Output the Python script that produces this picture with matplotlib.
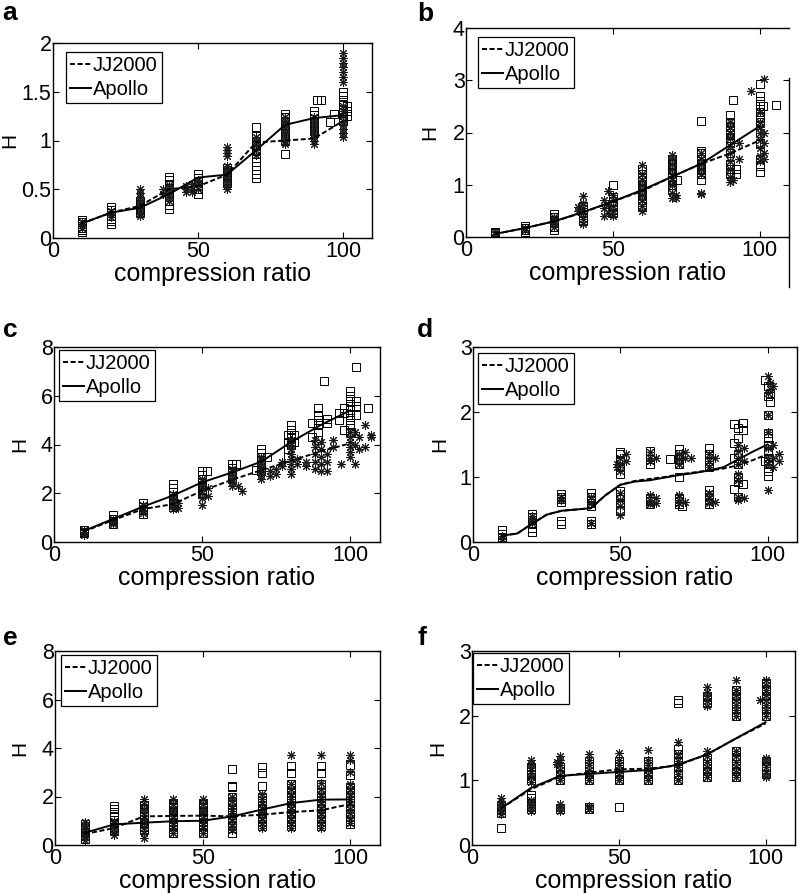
import matplotlib
matplotlib.use("Agg")
import matplotlib.pyplot as plt
from matplotlib.lines import Line2D

plt.rcParams['font.family'] = ['Liberation Sans', 'DejaVu Sans']

# ---------------- data ----------------
ratios = [10, 20, 30, 40, 50, 60, 70, 80, 90, 100]
ratios_fine = [10, 15, 20, 25, 30, 35, 40, 45, 50, 55, 60, 65, 70, 75, 80, 85, 90, 95, 100]

# panel a
a_sq = [(10, [0.06, 0.08, 0.1, 0.12, 0.14, 0.16, 0.18]),
        (20, [0.14, 0.17, 0.2, 0.23, 0.26, 0.29, 0.32]),
        (30, [0.26, 0.29, 0.32, 0.35, 0.38]),
        (40, [0.3, 0.34, 0.38, 0.42, 0.46, 0.5, 0.55, 0.6, 0.63]),
        (50, [0.45, 0.5, 0.54, 0.58, 0.62, 0.66]),
        (60, [0.56, 0.6, 0.64, 0.68, 0.72]),
        (70, [0.62, 0.66, 0.7, 0.74, 0.78, 0.82, 0.86, 0.9, 0.95, 1.0, 1.05, 1.14]),
        (80, [0.86, 1.0, 1.05, 1.1, 1.15, 1.2, 1.24, 1.27]),
        (90, [1.1, 1.14, 1.18, 1.22, 1.26, 1.3]),
        (91, [1.42]), (92.5, [1.42]), (95.5, [1.19]), (97, [1.27]),
        (100, [1.2, 1.24, 1.28, 1.32, 1.36, 1.4, 1.46, 1.5]),
        (101.5, [1.25, 1.3, 1.35])]
a_st = [(10, [0.1, 0.13, 0.16]),
        (20, [0.22, 0.25, 0.28]),
        (30, [0.23, 0.26, 0.3, 0.34, 0.38, 0.42, 0.46, 0.5]),
        (40, [0.38, 0.42, 0.46, 0.5, 0.54]), (38, [0.45, 0.5]),
        (46, [0.47, 0.5, 0.53]), (48, [0.47, 0.5, 0.55]),
        (50, [0.5, 0.55, 0.6]),
        (60, [0.5, 0.54, 0.58, 0.62, 0.66, 0.7, 0.74, 0.84, 0.87, 0.9, 0.93]),
        (70, [0.85, 0.9, 0.95, 1.0, 1.04]),
        (80, [0.96, 1.0, 1.04, 1.08, 1.12, 1.16, 1.2, 1.24]),
        (90, [0.96, 1.0, 1.04, 1.08, 1.12, 1.16, 1.2, 1.24]),
        (100, [1.04, 1.08, 1.12, 1.16, 1.2, 1.25, 1.3, 1.35, 1.6, 1.65, 1.7, 1.75, 1.8, 1.85, 1.9])]
a_jj = [0.15, 0.26, 0.33, 0.5, 0.53, 0.65, 0.98, 1.0, 1.02, 1.2]
a_ap = [0.15, 0.26, 0.31, 0.45, 0.62, 0.65, 0.9, 1.16, 1.23, 1.26]

# panel b
b_sq = [(10, [0.04, 0.07, 0.1]),
        (20, [0.1, 0.14, 0.18, 0.22]),
        (30, [0.14, 0.2, 0.26, 0.32, 0.38, 0.44]),
        (40, [0.3, 0.36, 0.42, 0.48, 0.54, 0.6]),
        (50, [0.45, 0.52, 0.6, 0.68, 0.76, 1.0]),
        (60, [0.6, 0.7, 0.8, 0.9, 1.0, 1.1, 1.2, 1.3]),
        (70, [0.9, 1.0, 1.1, 1.2, 1.3, 1.4, 1.5]), (72, [1.1]),
        (80, [1.1, 1.2, 1.3, 1.4, 1.5, 1.6, 1.65, 2.22]),
        (90, [1.2, 1.3, 1.4, 1.6, 1.8, 1.9, 2.0, 2.1, 2.2, 2.33]), (91, [2.62]), (92, [1.2, 1.3]),
        (100, [1.25, 1.35, 1.5, 1.8, 2.0, 2.2, 2.3, 2.4, 2.5, 2.6, 2.7, 2.92]), (101, [2.5]), (105.5, [2.52])]
b_st = [(10, [0.06, 0.09]),
        (20, [0.14, 0.18]),
        (30, [0.2, 0.26, 0.32, 0.38]),
        (40, [0.25, 0.35, 0.45, 0.55, 0.65, 0.78]), (38, [0.58, 0.5]),
        (47, [0.4, 0.55, 0.7]), (48.5, [0.45, 0.62, 0.88]),
        (50, [0.4, 0.5, 0.6, 0.7, 0.8]),
        (60, [0.5, 0.6, 0.7, 0.8, 0.9, 1.0, 1.1, 1.2, 1.38]),
        (70, [0.75, 0.85, 1.0, 1.1, 1.2, 1.3, 1.4, 1.5, 1.57]), (71.5, [0.75, 0.8]),
        (80, [0.82, 0.85, 1.2, 1.3, 1.4, 1.5, 1.6]),
        (90, [1.05, 1.15, 1.3, 1.45, 1.6, 1.75, 1.9, 2.0, 2.1, 2.2]), (93, [1.5, 1.8]), (91, [1.1]),
        (100, [1.45, 1.55, 1.7, 1.85, 2.0, 2.1, 2.2, 2.4]), (101.5, [1.5, 1.6, 1.8, 2.0, 3.03]), (97, [2.8])]
b_jj = [0.06, 0.17, 0.3, 0.47, 0.68, 0.88, 1.15, 1.4, 1.6, 1.85]
b_ap = [0.06, 0.17, 0.3, 0.48, 0.68, 0.9, 1.15, 1.4, 1.76, 2.12]

# panel c
c_sq = [(10, [0.35, 0.42, 0.5]),
        (20, [0.75, 0.85, 0.95, 1.1]),
        (30, [1.15, 1.3, 1.45, 1.6]),
        (40, [1.45, 1.6, 1.75, 1.9, 2.05, 2.2, 2.4]),
        (50, [2.0, 2.15, 2.3, 2.45, 2.6, 2.75, 2.9]), (51.5, [2.9]),
        (60, [2.6, 2.75, 2.9, 3.05, 3.2]), (61.5, [3.2]),
        (68, [2.95]), (70, [2.9, 3.05, 3.2, 3.35, 3.5, 3.65, 3.8]), (72, [3.5]),
        (79, [3.5, 3.8, 4.1, 4.4]), (80, [4.0, 4.3, 4.6, 4.8]), (81, [4.1, 4.4]),
        (87, [4.3, 4.9]), (89, [4.2, 4.5, 4.8, 5.0, 5.2, 5.5]), (91, [6.6]), (92, [4.9, 5.05]),
        (96, [5.0, 5.3]), (98, [4.6, 5.3, 5.5]),
        (100, [4.5, 4.8, 5.0, 5.2, 5.4, 5.6, 5.8, 6.0, 6.2]), (102, [5.2, 5.6, 5.8, 7.2]), (106, [5.5])]
c_st = [(10, [0.3, 0.4, 0.48]),
        (20, [0.75, 0.85, 0.95]),
        (30, [1.2, 1.3, 1.4, 1.5]),
        (40, [1.35, 1.5, 1.65, 1.8, 1.95]), (42, [1.4, 1.6]),
        (50, [1.5, 1.8, 2.0, 2.2, 2.4, 2.6]), (52, [1.9, 2.2]),
        (60, [2.3, 2.45, 2.6, 2.75, 2.9, 3.0]), (63.5, [2.1]), (62, [2.3]),
        (70, [2.6, 2.75, 2.9, 3.05, 3.2, 3.35, 3.5]), (73, [2.7, 2.9]), (75, [2.8, 3.0]), (77, [3.1, 3.3]),
        (80, [2.8, 3.0, 3.2, 3.4, 3.6, 3.8, 4.0, 4.2]), (82, [3.2, 3.4]), (85, [3.1, 3.3]),
        (88, [3.0, 3.3, 3.6, 3.9, 4.2]), (90, [2.9, 3.2, 3.5, 3.8, 4.1]), (92, [2.9, 3.3, 3.6]),
        (94, [3.9, 4.2]), (97, [3.2]),
        (100, [3.5, 3.7, 3.9, 4.1, 4.3, 4.5]), (101.5, [3.2, 4.0, 4.5]), (103, [3.8, 4.3]),
        (105, [3.9, 4.8]), (107, [4.3, 4.4])]
c_jj = [0.43, 0.9, 1.35, 1.55, 2.1, 2.55, 2.95, 3.33, 3.72, 4.05]
c_ap = [0.45, 0.95, 1.45, 1.9, 2.45, 2.85, 3.3, 4.1, 4.8, 5.4]

# panel d
d_sq = [(10, [0.03, 0.08, 0.13, 0.18]),
        (20, [0.15, 0.22, 0.3, 0.38, 0.43]),
        (30, [0.28, 0.32, 0.62, 0.66, 0.7, 0.74]),
        (40, [0.28, 0.32, 0.55, 0.6, 0.65, 0.7, 0.75]),
        (50, [0.5, 0.6, 0.7, 0.78, 1.05, 1.15, 1.25, 1.35, 1.38]),
        (60, [0.58, 0.63, 0.68, 1.2, 1.27, 1.33, 1.4]),
        (67, [1.27]), (70, [0.58, 0.63, 0.68, 1.0, 1.2, 1.28, 1.35, 1.43]), (71, [0.56]),
        (80, [0.58, 0.65, 0.72, 0.8, 1.15, 1.25, 1.35, 1.45]),
        (88.5, [0.82, 1.3, 1.52, 1.82]), (90, [0.7, 0.92, 1.0, 1.2, 1.35, 1.6, 1.75]), (91.5, [0.9, 1.72, 1.83]),
        (99, [2.5, 1.25]), (100, [1.02, 1.1, 1.2, 1.3, 1.4, 1.5, 1.6, 1.68, 1.95, 2.25, 2.4]), (101, [2.15, 2.3])]
d_st = [(10, [0.05, 0.1]),
        (20, [0.3, 0.35, 0.4]),
        (30, [0.65, 0.7]), (40, [0.3, 0.6, 0.7]),
        (50, [0.42, 0.55, 0.65, 0.75, 1.1, 1.2, 1.3]), (49, [1.15, 1.2]), (52, [1.25, 1.35]),
        (60, [0.58, 0.65, 0.72, 1.25, 1.3, 1.38]), (62, [0.6, 0.68, 1.3]),
        (70, [0.6, 0.65, 0.72, 1.2, 1.28, 1.35]), (72, [0.62, 1.3, 1.38]), (74, [1.3]),
        (80, [0.6, 0.68, 0.75, 1.15, 1.25, 1.35]), (82, [0.62, 1.3]),
        (90, [0.65, 0.7, 0.95, 1.05, 1.2, 1.3, 1.4, 1.5]), (92, [0.68, 1.25, 1.45]),
        (100, [0.8, 1.2, 1.3, 1.45, 1.7, 1.95, 2.3, 2.55]), (102, [1.15, 1.3, 1.5, 2.4]),
        (104, [1.25, 1.35]), (101, [2.35, 2.45])]
d_jj = [0.1, 0.13, 0.28, 0.42, 0.48, 0.5, 0.52, 0.72, 0.88, 0.94, 0.97, 1.0, 1.04, 1.07, 1.1, 1.13, 1.18, 1.26, 1.35]
d_ap = [0.1, 0.13, 0.28, 0.42, 0.48, 0.5, 0.52, 0.72, 0.88, 0.93, 0.95, 0.99, 1.03, 1.06, 1.1, 1.15, 1.27, 1.39, 1.5]

# panel e
e_sq = [(10, [0.25, 0.4, 0.55, 0.7, 0.85]),
        (20, [0.6, 0.75, 0.9, 1.05, 1.2, 1.35, 1.5, 1.6]),
        (30, [0.6, 0.75, 0.9, 1.05, 1.2, 1.35, 1.5, 1.65]),
        (40, [0.5, 0.65, 0.8, 0.95, 1.1, 1.25, 1.4, 1.55, 1.7]),
        (50, [0.5, 0.65, 0.8, 0.95, 1.1, 1.25, 1.4, 1.55, 1.7]),
        (60, [0.5, 0.7, 0.9, 1.1, 1.3, 1.5, 1.7, 2.0, 2.4, 2.45, 3.15]),
        (70, [0.8, 1.0, 1.2, 1.4, 1.6, 1.8, 2.0, 2.45, 2.95, 3.2]),
        (80, [0.8, 1.0, 1.2, 1.4, 1.6, 1.8, 2.0, 2.2, 2.5, 2.95, 3.25]),
        (90, [0.8, 1.0, 1.2, 1.4, 1.6, 1.8, 2.0, 2.2, 2.5, 2.95, 3.25]),
        (100, [0.85, 1.0, 1.15, 1.3, 1.6, 1.8, 2.0, 2.2, 2.4, 2.9, 3.3])]
e_st = [(10, [0.2, 0.35, 0.5, 0.65, 0.8, 0.95]),
        (20, [0.4, 0.55, 0.7, 0.85, 1.0]),
        (30, [0.3, 0.5, 0.7, 0.9, 1.1, 1.3, 1.5, 1.7, 1.9]),
        (40, [0.5, 0.7, 0.9, 1.1, 1.3, 1.5, 1.7, 1.9]),
        (50, [0.5, 0.7, 0.9, 1.1, 1.3, 1.5, 1.7, 1.9]),
        (60, [0.6, 0.8, 1.0, 1.2, 1.4, 1.6, 1.8, 2.0]),
        (70, [0.7, 0.9, 1.1, 1.3, 1.5, 1.7, 1.9, 2.1]),
        (80, [0.7, 0.9, 1.1, 1.3, 1.5, 1.7, 1.9, 2.1, 2.3, 2.5, 3.7]),
        (90, [0.7, 0.9, 1.1, 1.3, 1.5, 1.7, 1.9, 2.1, 2.3, 2.55, 3.7]),
        (100, [0.9, 1.1, 1.3, 1.5, 1.7, 1.9, 2.1, 2.3, 2.5, 3.0, 3.5, 3.7])]
e_jj = [0.45, 0.7, 1.18, 1.2, 1.21, 1.18, 1.25, 1.36, 1.43, 1.69]
e_ap = [0.5, 0.85, 0.92, 0.98, 1.0, 1.18, 1.46, 1.73, 1.87, 1.88]

# panel f
f_sq = [(10, [0.27, 0.5, 0.55, 0.6]),
        (20, [0.55, 0.65, 0.72, 0.78, 1.0, 1.1, 1.2]),
        (30, [0.55, 1.0, 1.1, 1.2]),
        (40, [0.55, 0.58, 1.0, 1.1, 1.2, 1.3]),
        (50, [0.58, 1.0, 1.1, 1.2, 1.3]),
        (60, [1.0, 1.1, 1.2, 1.3]),
        (70, [1.0, 1.1, 1.2, 1.3, 1.4, 1.48, 2.2, 2.25]),
        (80, [1.05, 1.15, 1.25, 1.35, 2.2, 2.3]),
        (90, [1.05, 1.15, 1.25, 1.35, 1.45, 2.0, 2.1, 2.2, 2.3, 2.4]),
        (100, [1.1, 1.2, 1.3, 2.0, 2.1, 2.2, 2.3, 2.4, 2.5])]
f_st = [(10, [0.48, 0.53, 0.58, 0.63, 0.68, 0.72]),
        (20, [0.52, 0.58, 0.64, 0.7, 0.98, 1.05, 1.12, 1.19, 1.26, 1.32]),
        (30, [0.52, 0.58, 0.64, 1.0, 1.08, 1.16, 1.24, 1.32, 1.38]), (29, [1.25, 1.28]),
        (40, [0.55, 0.6, 1.0, 1.08, 1.16, 1.24, 1.32, 1.4]),
        (50, [1.0, 1.08, 1.16, 1.24, 1.32, 1.43]),
        (60, [1.0, 1.08, 1.16, 1.24, 1.32, 1.47]),
        (70, [1.0, 1.1, 1.2, 1.3, 1.4, 1.6]),
        (80, [1.05, 1.13, 1.21, 1.29, 1.37, 1.45, 2.15, 2.22, 2.3, 2.37, 2.45]),
        (90, [1.05, 1.13, 1.21, 1.29, 1.37, 1.45, 2.0, 2.08, 2.16, 2.24, 2.32, 2.4, 2.55]),
        (100, [1.05, 1.12, 1.2, 1.28, 1.35, 2.0, 2.08, 2.16, 2.24, 2.32, 2.4, 2.48, 2.55]), (98, [2.25])]
f_jj = [0.57, 0.86, 1.06, 1.12, 1.17, 1.18, 1.23, 1.4, 1.65, 1.88]
f_ap = [0.57, 0.88, 1.07, 1.1, 1.13, 1.16, 1.24, 1.4, 1.65, 1.9]

x_ticks = [0, 50, 100]
x_ticklabels = ['0', '50', '100']
a_yticks, a_ylabels = [0, 0.5, 1, 1.5, 2], ['0', '0.5', '1', '1.5', '2']
b_yticks, b_ylabels = [0, 1, 2, 3, 4], ['0', '1', '2', '3', '4']
c_yticks, c_ylabels = [0, 2, 4, 6, 8], ['0', '2', '4', '6', '8']
d_yticks, d_ylabels = [0, 1, 2, 3], ['0', '1', '2', '3']
e_yticks, e_ylabels = [0, 2, 4, 6, 8], ['0', '2', '4', '6', '8']
f_yticks, f_ylabels = [0, 1, 2, 3], ['0', '1', '2', '3']
legend_labels = ['JJ2000', 'Apollo']
panel_letters = ['a', 'b', 'c', 'd', 'e', 'f']

# ---------------- layout ----------------
W, H = 799, 893
fig = plt.figure(figsize=(W / 100, H / 100), dpi=100)


def rect(l, t, r, b):
    return [l / W, 1 - b / H, (r - l) / W, (b - t) / H]


ASTER = (8, 2, 0)
DASH = (0, (2.6, 1.3))


def panel(box, sq, st, xl, jj, ap, yticks, ylabels, leg_off, ylab_x):
    ax = fig.add_axes(rect(*box))
    for x, ys in sq:
        ax.plot([x] * len(ys), ys, ls='none', marker='s', ms=5.4, mfc='none',
                mec='black', mew=0.7, zorder=2)
    for x, ys in st:
        ax.plot([x] * len(ys), ys, ls='none', marker=ASTER, ms=6.2, mfc='none',
                mec='#1a1a1a', mew=0.75, zorder=2)
    l1, = ax.plot(xl, jj, color='black', lw=1.4, ls=DASH, zorder=3)
    l2, = ax.plot(xl, ap, color='black', lw=1.4, ls='-', zorder=3)
    ax.set_xlim(0, 110)
    ax.set_ylim(yticks[0], yticks[-1])
    ax.set_xticks(x_ticks)
    ax.set_xticklabels(x_ticklabels)
    ax.set_yticks(yticks)
    ax.set_yticklabels(ylabels)
    ax.tick_params(direction='in', length=4, width=0.8, top=True, right=True,
                   labelsize=15.5)
    ax.tick_params(axis='x', pad=2.5)
    ax.tick_params(axis='y', pad=1.0)
    for s in ax.spines.values():
        s.set_linewidth(1.0)
    ax.set_xlabel('compression ratio', fontsize=18, labelpad=0)
    ax.set_ylabel('H', fontsize=15)
    ax.yaxis.set_label_coords(ylab_x, 0.5)
    l, t, r, b = box
    axw, axh = r - l, b - t
    leg = ax.legend([l1, l2], legend_labels, loc='upper left',
                    bbox_to_anchor=(leg_off[0] / axw, 1 - leg_off[1] / axh),
                    borderaxespad=0, fontsize=14.5, handlelength=1.0,
                    handletextpad=0.1, labelspacing=0.22, borderpad=0.22,
                    fancybox=False, framealpha=1, edgecolor='black')
    leg.get_frame().set_linewidth(0.9)
    return ax


axa = panel((53, 43, 372, 238), a_sq, a_st, ratios, a_jj, a_ap, a_yticks, a_ylabels, (13, 9), -0.107)
axb = panel((466, 28, 789, 237), b_sq, b_st, ratios, b_jj, b_ap, b_yticks, b_ylabels, (12, 9), -0.083)
axc = panel((54, 347, 380, 542), c_sq, c_st, ratios, c_jj, c_ap, c_yticks, c_ylabels, (5, 3), -0.077)
axd = panel((473, 347, 797, 542), d_sq, d_st, ratios_fine, d_jj, d_ap, d_yticks, d_ylabels, (5, 6), -0.074)
axe = panel((55, 651, 380, 845), e_sq, e_st, ratios, e_jj, e_ap, e_yticks, e_ylabels, (6, 4), -0.079)
axf = panel((472, 651, 795, 845), f_sq, f_st, ratios, f_jj, f_ap, f_yticks, f_ylabels, (1, 2), -0.077)

# odd frame of panel b: right edge only from y=3 downwards, extending below the axis
axb.spines['right'].set_visible(False)
fig.add_artist(Line2D([789 / W, 789 / W], [1 - 78 / H, 1 - 287 / H], color='black', lw=1.0))

# panel letters
letter_pos = [(2, 20), (417, 21), (3, 337), (417, 337), (3, 645), (418, 645)]
for letter, (px, py) in zip(panel_letters, letter_pos):
    fig.text(px / W, 1 - py / H, letter, fontsize=19, fontweight='bold',
             ha='left', va='baseline')

fig.savefig('out.png', dpi=100)
